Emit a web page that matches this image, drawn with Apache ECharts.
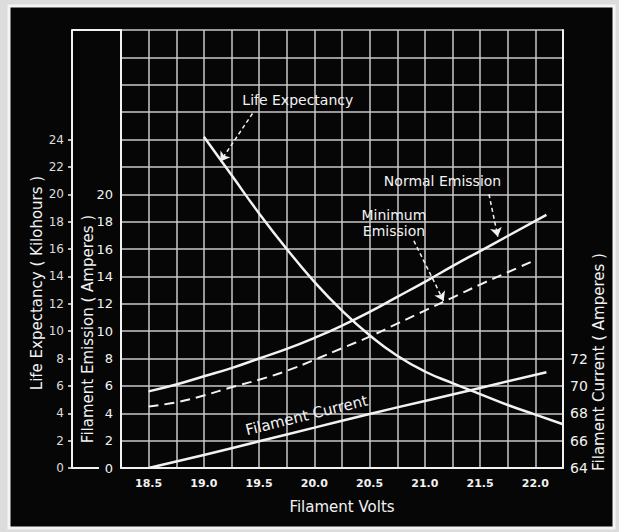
<!DOCTYPE html>
<html><head><meta charset="utf-8">
<script src="https://cdn.jsdelivr.net/npm/echarts@6/dist/echarts.min.js"></script>
<style>html,body{margin:0;padding:0;background:#dcdcdc;}#c{width:619px;height:532px;}</style>
</head><body><div id="c"></div>
<script>
// ---- data ----
const lifeVolts = [19.0, 19.25, 19.5, 19.75, 20.0, 20.25, 20.5, 20.75, 21.0, 21.25, 21.5, 21.75, 22.0, 22.25];
const lifeExpectancy = [24.2, 21.4, 18.6, 16.0, 13.6, 11.5, 9.7, 8.2, 7.05, 6.2, 5.4, 4.6, 3.9, 3.2];

const normalVolts = [18.5, 18.75, 19.0, 19.25, 19.5, 19.75, 20.0, 20.25, 20.5, 20.75, 21.0, 21.25, 21.5, 21.75, 22.1];
const normalEmission = [5.6, 6.1, 6.7, 7.3, 8.0, 8.7, 9.5, 10.4, 11.4, 12.5, 13.6, 14.75, 15.85, 16.95, 18.5];

const minimumVolts = [18.5, 18.75, 19.0, 19.25, 19.5, 19.75, 20.0, 20.25, 20.5, 20.75, 21.0, 21.25, 21.5, 21.75, 22.0];
const minimumEmission = [4.5, 4.8, 5.3, 5.9, 6.45, 7.1, 7.9, 8.75, 9.6, 10.55, 11.5, 12.45, 13.4, 14.3, 15.2];

const currentVolts = [18.5, 19.0, 19.5, 20.0, 20.5, 21.0, 21.5, 22.1];
const filamentCurrent = [64.0, 64.95, 65.95, 66.95, 67.95, 68.9, 69.85, 71.0];

const xTickLabels = [18.5, 19.0, 19.5, 20.0, 20.5, 21.0, 21.5, 22.0];
const emissionTicks = [0, 2, 4, 6, 8, 10, 12, 14, 16, 18, 20];
const lifeTicks = [0, 2, 4, 6, 8, 10, 12, 14, 16, 18, 20, 22, 24];
const currentTicks = [64, 66, 68, 70, 72];

// annotation anchors in data units (volts, emission/kilohours)
const annLife = { text: 'Life Expectancy', at: [19.85, 26.9], from: [19.44, 25.9], to: [19.15, 22.4] };
const annNormal = { text: 'Normal Emission', at: [21.16, 21.0], from: [21.58, 20.0], to: [21.66, 16.9] };
const annMinimum = { text: 'Minimum\nEmission', at: [20.72, 17.9], from: [20.9, 16.6], to: [21.17, 12.2] };
const annCurrent = { text: 'Filament Current', at: [19.93, 3.85], rotate: 14 };

const pairs = (xs, ys) => xs.map((x, i) => [x, ys[i]]);
const FONT = 'DejaVu Sans';
const WHITE = '#f2f2f2';
const GRID = '#c8c8c8';

function textPoint(a, size, rot) {
  return {
    coord: a.at, symbol: 'circle', symbolSize: 1,
    itemStyle: { color: 'rgba(0,0,0,0)' },
    label: { show: true, position: 'inside', formatter: a.text, color: WHITE, fontFamily: FONT,
      fontSize: size, lineHeight: 16, rotate: rot || 0, align: 'center' }
  };
}
function arrow(a) {
  return [{ coord: a.from }, { coord: a.to }];
}
const arrowLine = data => ({ silent: true, symbol: ['none', 'arrow'], symbolSize: 9, label: { show: false },
  lineStyle: { color: WHITE, width: 1.5, type: [4, 3] }, data: data });

const chart = echarts.init(document.getElementById('c'), null, { renderer: 'svg' });
chart.setOption({
  backgroundColor: '#dcdcdc',
  animation: false,
  graphic: [
    { type: 'rect', z: -100, silent: true, shape: { x: 9, y: 6, width: 605, height: 522 },
      style: { fill: '#060606', stroke: '#f4f4f4', lineWidth: 3 } },
    { type: 'line', z: 10, silent: true, shape: { x1: 72, y1: 30, x2: 121, y2: 30 }, style: { stroke: WHITE, lineWidth: 2 } },
    { type: 'line', z: 10, silent: true, shape: { x1: 72, y1: 468, x2: 99, y2: 468 }, style: { stroke: WHITE, lineWidth: 2 } }
  ],
  grid: { left: 121, top: 30, width: 442, height: 438, show: false },
  xAxis: {
    type: 'value', min: 18.25, max: 22.25, interval: 0.25,
    name: 'Filament Volts', nameLocation: 'middle', nameGap: 31, nameMoveOverlap: false,
    nameTextStyle: { color: WHITE, fontFamily: FONT, fontSize: 15 },
    axisLine: { show: true, lineStyle: { color: WHITE, width: 2 } },
    axisTick: { show: false },
    splitLine: { show: true, lineStyle: { color: GRID, width: 1.5 } },
    axisLabel: {
      color: WHITE, fontFamily: FONT, fontSize: 11, fontWeight: 'bold', margin: 10,
      customValues: xTickLabels, formatter: v => v.toFixed(1)
    }
  },
  yAxis: [
    {
      type: 'value', position: 'left', min: 0, max: 32, interval: 2,
      name: 'Filament Emission ( Amperes )', nameLocation: 'middle', nameGap: 26, nameRotate: 90, nameMoveOverlap: false,
      nameTextStyle: { color: WHITE, fontFamily: FONT, fontSize: 15, padding: [0, 160, 0, 0] },
      axisLine: { show: true, lineStyle: { color: WHITE, width: 2 } },
      axisTick: { show: false },
      splitLine: { show: true, lineStyle: { color: GRID, width: 1.5 } },
      axisLabel: { color: WHITE, fontFamily: FONT, fontSize: 13, margin: 8, customValues: emissionTicks }
    },
    {
      type: 'value', position: 'left', offset: 49, min: 0, max: 32, interval: 2,
      name: 'Life Expectancy ( Kilohours )', nameLocation: 'middle', nameGap: 28, nameRotate: 90, nameMoveOverlap: false,
      nameTextStyle: { color: WHITE, fontFamily: FONT, fontSize: 15, padding: [0, 68, 0, 0] },
      axisLine: { show: true, lineStyle: { color: WHITE, width: 2 } },
      axisTick: { show: true, length: 4, lineStyle: { color: WHITE, width: 1.5 }, customValues: lifeTicks },
      splitLine: { show: false },
      axisLabel: { color: '#dcdcdc', fontFamily: FONT, fontSize: 12, margin: 8, customValues: lifeTicks }
    },
    {
      type: 'value', position: 'right', min: 64, max: 96, interval: 2,
      name: 'Filament Current ( Amperes )', nameLocation: 'middle', nameGap: 28, nameRotate: 90, nameMoveOverlap: false,
      nameTextStyle: { color: WHITE, fontFamily: FONT, fontSize: 15, padding: [0, 226, 0, 0] },
      axisLine: { show: true, lineStyle: { color: WHITE, width: 2 } },
      axisTick: { show: false },
      splitLine: { show: false },
      axisLabel: { color: WHITE, fontFamily: FONT, fontSize: 14, margin: 7, customValues: currentTicks }
    }
  ],
  series: [
    {
      name: 'Life Expectancy', type: 'line', yAxisIndex: 1, smooth: 0.5, symbol: 'none',
      data: pairs(lifeVolts, lifeExpectancy),
      lineStyle: { color: WHITE, width: 2.5 },
      markPoint: { silent: true, data: [textPoint(annLife, 14)] },
      markLine: arrowLine([arrow(annLife)])
    },
    {
      name: 'Normal Emission', type: 'line', yAxisIndex: 0, smooth: 0.5, symbol: 'none',
      data: pairs(normalVolts, normalEmission),
      lineStyle: { color: WHITE, width: 2.5 },
      markPoint: { silent: true, data: [textPoint(annNormal, 14)] },
      markLine: arrowLine([arrow(annNormal)])
    },
    {
      name: 'Minimum Emission', type: 'line', yAxisIndex: 0, smooth: 0.5, symbol: 'none',
      data: pairs(minimumVolts, minimumEmission),
      lineStyle: { color: WHITE, width: 2, type: [10, 6] },
      markPoint: { silent: true, data: [textPoint(annMinimum, 14)] },
      markLine: arrowLine([arrow(annMinimum)])
    },
    {
      name: 'Filament Current', type: 'line', yAxisIndex: 2, smooth: 0.5, symbol: 'none',
      data: pairs(currentVolts, filamentCurrent),
      lineStyle: { color: WHITE, width: 2.5 }
    },
    {
      name: 'labels', type: 'line', yAxisIndex: 0, data: [], symbol: 'none',
      markPoint: { silent: true, data: [textPoint(annCurrent, 15, annCurrent.rotate)] }
    }
  ]
});
</script></body></html>
